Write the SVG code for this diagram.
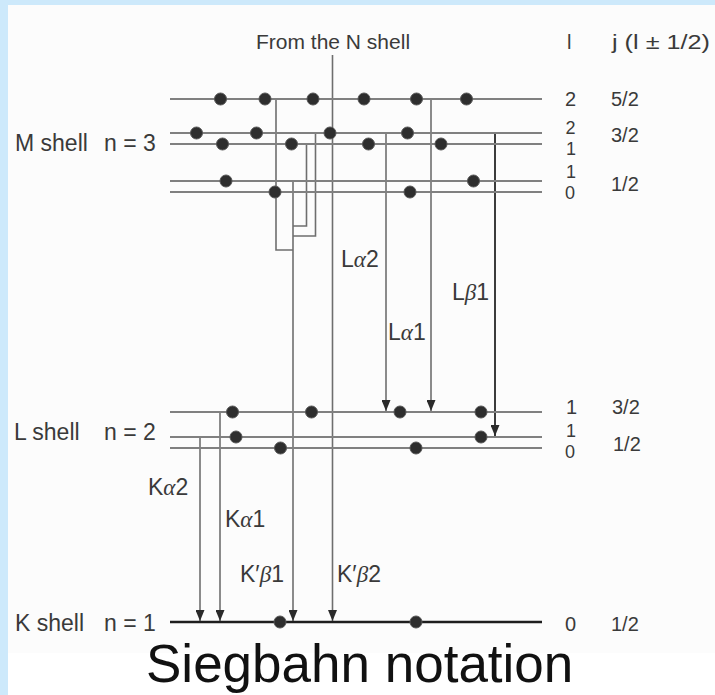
<svg xmlns="http://www.w3.org/2000/svg" width="715" height="695" viewBox="0 0 715 695">
<defs>
<style>
.t{font-family:"Liberation Sans",Arial,Helvetica,sans-serif;fill:#3a3a3a}
.sh{font-size:23px}
.rl{font-size:20px}
.st{font-size:18px}
.gl{font-size:23px}
.g{font-family:"Liberation Serif","Times New Roman",serif;font-style:italic}
.lev{stroke:#808080;stroke-width:2;fill:none}
.kl{stroke:#1e1e1e;stroke-width:2.5;fill:none}
.tr{stroke:#6e6e6e;stroke-width:1.6;fill:none}
.trd{stroke:#3c3c3c;stroke-width:2;fill:none}
.dot{fill:#2e2e2e;stroke:#555;stroke-width:1}
</style>
<marker id="ah" markerUnits="userSpaceOnUse" markerWidth="12" markerHeight="9" refX="11" refY="4.5" orient="auto">
<path d="M0,0 L11,4.5 L0,9 Z" fill="#2a2a2a"/>
</marker>
</defs>
<rect x="0" y="0" width="715" height="695" fill="#cde9fb"/>
<rect x="8" y="5" width="707" height="690" fill="#ffffff"/>
<rect x="8" y="5" width="707" height="648" fill="#fcfcfc"/>

<g id="header">
<text class="t" x="256" y="49" style="font-size:21px">From the N shell</text>
<text class="t rl" x="567" y="49">l</text>
<text class="t rl" x="612" y="49" textLength="98" lengthAdjust="spacingAndGlyphs">j (l ± 1/2)</text>
</g>

<g id="connectors">
<polyline class="tr" points="276,99 276,250 293,250"/>
<polyline class="tr" points="306.5,144 306.5,226 293,226"/>
<polyline class="tr" points="315.5,133 315.5,236 293,236"/>
<line class="tr" x1="293" y1="181" x2="293" y2="621" marker-end="url(#ah)"/>
<line class="tr" x1="332.5" y1="55" x2="332.5" y2="621" marker-end="url(#ah)"/>
<line class="tr" x1="200" y1="437" x2="200" y2="621" marker-end="url(#ah)"/>
<line class="tr" x1="220" y1="412" x2="220" y2="621" marker-end="url(#ah)"/>
<line class="tr" x1="386" y1="133" x2="386" y2="411" marker-end="url(#ah)"/>
<line class="tr" x1="431" y1="99" x2="431" y2="411" marker-end="url(#ah)"/>
<line class="trd" x1="495" y1="133" x2="495" y2="436" marker-end="url(#ah)"/>
</g>

<g id="M-shell">
<text class="t sh" x="15" y="151">M shell</text>
<text class="t sh" x="104" y="151">n = 3</text>
<line class="lev" x1="170" y1="99" x2="542" y2="99"/>
<line class="lev" x1="170" y1="133" x2="542" y2="133"/>
<line class="lev" x1="170" y1="144" x2="542" y2="144"/>
<line class="lev" x1="170" y1="181" x2="542" y2="181"/>
<line class="lev" x1="170" y1="192" x2="542" y2="192"/>
<circle class="dot" cx="220.5" cy="99" r="6"/>
<circle class="dot" cx="265" cy="99" r="6"/>
<circle class="dot" cx="313" cy="99" r="6"/>
<circle class="dot" cx="364" cy="99" r="6"/>
<circle class="dot" cx="416.5" cy="99" r="6"/>
<circle class="dot" cx="466.5" cy="99" r="6"/>
<circle class="dot" cx="196.5" cy="133" r="6"/>
<circle class="dot" cx="256.5" cy="133" r="6"/>
<circle class="dot" cx="330" cy="133" r="6"/>
<circle class="dot" cx="407.5" cy="133" r="6"/>
<circle class="dot" cx="222.5" cy="144" r="6"/>
<circle class="dot" cx="291.5" cy="144" r="6"/>
<circle class="dot" cx="368.5" cy="144" r="6"/>
<circle class="dot" cx="441" cy="144" r="6"/>
<circle class="dot" cx="226" cy="181" r="6"/>
<circle class="dot" cx="473.5" cy="181" r="6"/>
<circle class="dot" cx="275" cy="192" r="6"/>
<circle class="dot" cx="410" cy="192" r="6"/>
<text class="t rl" x="565" y="106">2</text>
<text class="t rl" x="611" y="106">5/2</text>
<text class="t st" x="565.5" y="134">2</text>
<text class="t st" x="566" y="155">1</text>
<text class="t rl" x="611" y="142">3/2</text>
<text class="t st" x="566" y="178">1</text>
<text class="t st" x="565" y="199">0</text>
<text class="t rl" x="611" y="191">1/2</text>
</g>

<g id="L-shell">
<text class="t sh" x="14" y="440">L shell</text>
<text class="t sh" x="104" y="440">n = 2</text>
<line class="lev" x1="170" y1="412" x2="542" y2="412"/>
<line class="lev" x1="170" y1="437" x2="542" y2="437"/>
<line class="lev" x1="170" y1="448" x2="542" y2="448"/>
<circle class="dot" cx="232.5" cy="412" r="6"/>
<circle class="dot" cx="311.5" cy="412" r="6"/>
<circle class="dot" cx="400" cy="412" r="6"/>
<circle class="dot" cx="481" cy="412" r="6"/>
<circle class="dot" cx="236" cy="437" r="6"/>
<circle class="dot" cx="481" cy="437" r="6"/>
<circle class="dot" cx="280.5" cy="448" r="6"/>
<circle class="dot" cx="416" cy="448" r="6"/>
<text class="t rl" x="566" y="414">1</text>
<text class="t rl" x="612" y="414">3/2</text>
<text class="t st" x="566" y="437">1</text>
<text class="t st" x="565" y="458">0</text>
<text class="t rl" x="613" y="451">1/2</text>
</g>

<g id="K-shell">
<text class="t sh" x="15" y="631">K shell</text>
<text class="t sh" x="104" y="631">n = 1</text>
<line class="kl" x1="170" y1="622" x2="542" y2="622"/>
<circle class="dot" cx="280" cy="622" r="6"/>
<circle class="dot" cx="416" cy="622" r="6"/>
<text class="t rl" x="565" y="631">0</text>
<text class="t rl" x="611" y="631">1/2</text>
</g>

<g id="transition-labels">
<text class="t gl" x="341" y="267">L<tspan class="g">α</tspan>2</text>
<text class="t gl" x="388" y="340">L<tspan class="g">α</tspan>1</text>
<text class="t gl" x="452" y="300">L<tspan class="g">β</tspan>1</text>
<text class="t gl" x="148" y="495">K<tspan class="g">α</tspan>2</text>
<text class="t gl" x="225" y="527">K<tspan class="g">α</tspan>1</text>
<text class="t gl" x="240" y="582">K′<tspan class="g">β</tspan>1</text>
<text class="t gl" x="337" y="582">K′<tspan class="g">β</tspan>2</text>
</g>

<g id="title">
<text x="146" y="682" style="font-family:'Liberation Sans',Arial,sans-serif;font-size:53px;fill:#111">Siegbahn notation</text>
</g>
</svg>
